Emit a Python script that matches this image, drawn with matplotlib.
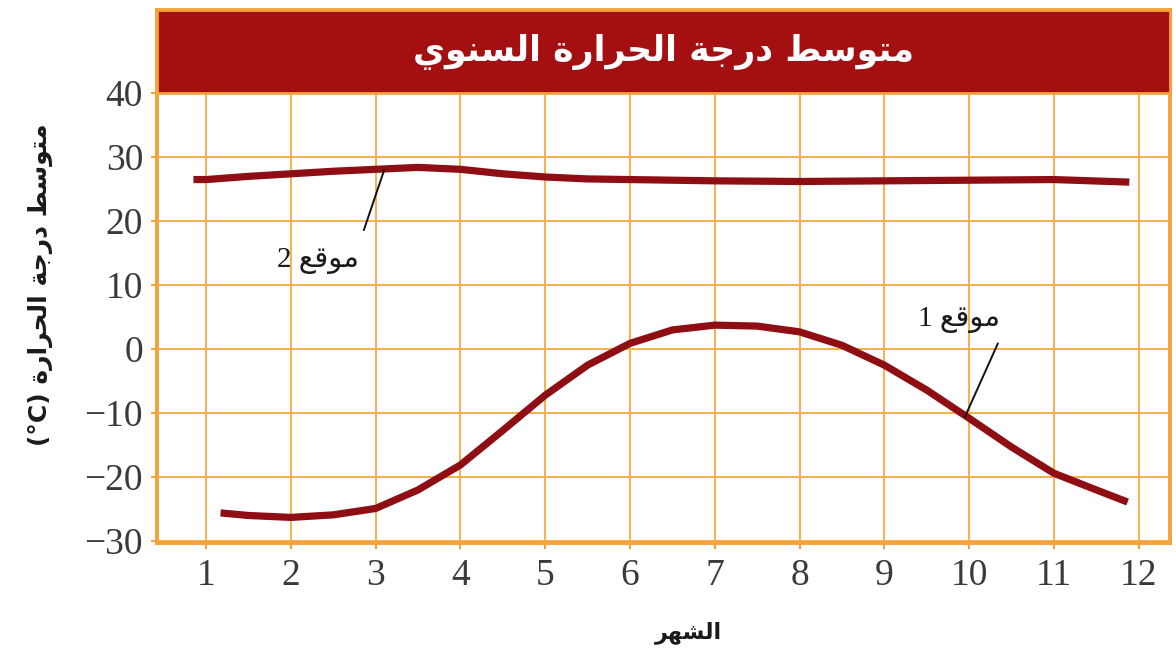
import re
import matplotlib
matplotlib.use("Agg")
import matplotlib.pyplot as plt
from matplotlib.patches import Rectangle

# ---------------- data ----------------
months = [1, 2, 3, 4, 5, 6, 7, 8, 9, 10, 11, 12]
y_ticks = [40, 30, 20, 10, 0, -10, -20, -30]

site1_months = [1.17, 1.5, 2, 2.5, 3, 3.5, 4, 4.5, 5, 5.5, 6, 6.5, 7, 7.5, 8,
                8.5, 9, 9.5, 10, 10.5, 11, 11.5, 11.87]
site1_temps = [-25.6, -26.0, -26.3, -25.9, -24.9, -22.0, -18.1, -12.7, -7.2, -2.5,
               0.9, 3.0, 3.75, 3.6, 2.7, 0.6, -2.5, -6.4, -10.8, -15.3, -19.4,
               -22.0, -23.9]

site2_months = [0.85, 1, 1.5, 2, 2.5, 3, 3.5, 4, 4.5, 5, 5.5, 6, 7, 8, 9, 10, 11, 11.89]
site2_temps = [26.5, 26.5, 27.0, 27.4, 27.8, 28.1, 28.4, 28.1, 27.4, 26.9, 26.6,
               26.5, 26.3, 26.2, 26.3, 26.4, 26.5, 26.1]

title_text = "متوسط درجة الحرارة السنوي"
ylabel_text = "متوسط درجة الحرارة (°C)"
xlabel_text = "الشهر"
site1_label = "موقع 1"
site2_label = "موقع 2"

# ---------------- minimal Arabic shaping ----------------
FORMS = {
    'ا': (0xFE8D, 0xFE8E, None, None), 'ب': (0xFE8F, 0xFE90, 0xFE91, 0xFE92),
    'ة': (0xFE93, 0xFE94, None, None), 'ت': (0xFE95, 0xFE96, 0xFE97, 0xFE98),
    'ث': (0xFE99, 0xFE9A, 0xFE9B, 0xFE9C), 'ج': (0xFE9D, 0xFE9E, 0xFE9F, 0xFEA0),
    'ح': (0xFEA1, 0xFEA2, 0xFEA3, 0xFEA4), 'خ': (0xFEA5, 0xFEA6, 0xFEA7, 0xFEA8),
    'د': (0xFEA9, 0xFEAA, None, None), 'ذ': (0xFEAB, 0xFEAC, None, None),
    'ر': (0xFEAD, 0xFEAE, None, None), 'ز': (0xFEAF, 0xFEB0, None, None),
    'س': (0xFEB1, 0xFEB2, 0xFEB3, 0xFEB4), 'ش': (0xFEB5, 0xFEB6, 0xFEB7, 0xFEB8),
    'ص': (0xFEB9, 0xFEBA, 0xFEBB, 0xFEBC), 'ض': (0xFEBD, 0xFEBE, 0xFEBF, 0xFEC0),
    'ط': (0xFEC1, 0xFEC2, 0xFEC3, 0xFEC4), 'ظ': (0xFEC5, 0xFEC6, 0xFEC7, 0xFEC8),
    'ع': (0xFEC9, 0xFECA, 0xFECB, 0xFECC), 'غ': (0xFECD, 0xFECE, 0xFECF, 0xFED0),
    'ف': (0xFED1, 0xFED2, 0xFED3, 0xFED4), 'ق': (0xFED5, 0xFED6, 0xFED7, 0xFED8),
    'ك': (0xFED9, 0xFEDA, 0xFEDB, 0xFEDC), 'ل': (0xFEDD, 0xFEDE, 0xFEDF, 0xFEE0),
    'م': (0xFEE1, 0xFEE2, 0xFEE3, 0xFEE4), 'ن': (0xFEE5, 0xFEE6, 0xFEE7, 0xFEE8),
    'ه': (0xFEE9, 0xFEEA, 0xFEEB, 0xFEEC), 'و': (0xFEED, 0xFEEE, None, None),
    'ى': (0xFEEF, 0xFEF0, None, None), 'ي': (0xFEF1, 0xFEF2, 0xFEF3, 0xFEF4),
}


def shape(text):
    chars = list(text)
    out = []
    for i, c in enumerate(chars):
        if c not in FORMS:
            out.append(c)
            continue
        prev = chars[i - 1] if i > 0 else None
        nxt = chars[i + 1] if i + 1 < len(chars) else None
        prev_j = prev in FORMS and FORMS[prev][2] is not None
        dual = FORMS[c][2] is not None
        next_j = dual and nxt in FORMS
        iso, fin, ini, med = FORMS[c]
        if prev_j and next_j:
            code = med
        elif prev_j:
            code = fin
        elif next_j:
            code = ini
        else:
            code = iso
        out.append(chr(code))
    vis = ''.join(out)[::-1]
    # restore left-to-right runs
    vis = re.sub(r"[0-9A-Za-z°()]+", lambda m: m.group(0)[::-1], vis)
    return vis


# ---------------- style ----------------
ORANGE = '#F3A33A'
GRID = '#F6B048'
RED_BAR = '#A40F12'
LINE = '#8E0E14'
TICK_COL = '#3a3a3a'

fig = plt.figure(figsize=(11.76, 6.63), dpi=100)
ax = fig.add_axes([157 / 1176, 1 - 543 / 663, (1170 - 157) / 1176, (543 - 10) / 663])

ax.set_xlim(0.42, 12.37)
ax.set_ylim(-30.3, 53)

ax.set_xticks(months)
ax.set_xticklabels([str(m) for m in months])
ax.set_yticks(y_ticks)
ax.set_yticklabels([("\u2212" + str(-t)) if t < 0 else str(t) for t in y_ticks])
ax.tick_params(axis='both', colors=ORANGE, length=4, width=1.5,
               labelcolor=TICK_COL, labelsize=27)
ax.tick_params(axis='x', pad=7)
ax.tick_params(axis='y', pad=6)
for lab in ax.get_xticklabels() + ax.get_yticklabels():
    lab.set_fontfamily('Liberation Serif')

ax.grid(True, color=GRID, linewidth=1.4, zorder=0)
ax.set_axisbelow(True)
for sp in ax.spines.values():
    sp.set_color(ORANGE)
    sp.set_linewidth(2.8)

# title bar
ax.add_patch(Rectangle((0, 40), 1, 13, transform=ax.get_yaxis_transform(),
                       facecolor=RED_BAR, edgecolor=ORANGE, linewidth=2.0,
                       zorder=3, clip_on=False))
ax.text(0.5, 46.4, shape(title_text), transform=ax.get_yaxis_transform(),
        ha='center', va='center', color='white', fontsize=25,
        fontweight='bold', family=['DejaVu Sans'], zorder=4)

# curves
ax.plot(site2_months, site2_temps, color=LINE, linewidth=5.2,
        solid_capstyle='butt', solid_joinstyle='round', zorder=2)
ax.plot(site1_months, site1_temps, color=LINE, linewidth=5.2,
        solid_capstyle='butt', solid_joinstyle='round', zorder=2)

# annotations
ax.annotate('', xy=(3.1, 28.0), xytext=(2.86, 18.6),
            arrowprops=dict(arrowstyle='-', color='#111111', lw=1.4,
                            shrinkA=0, shrinkB=0), zorder=2.5)
ax.text(2.32, 13.8, shape(site2_label), ha='center', va='center',
        fontsize=21, color='#1a1a1a', family=['Liberation Serif', 'DejaVu Sans'])

ax.annotate('', xy=(9.95, -10.6), xytext=(10.34, 0.9),
            arrowprops=dict(arrowstyle='-', color='#111111', lw=1.4,
                            shrinkA=0, shrinkB=0), zorder=2.5)
ax.text(9.88, 4.6, shape(site1_label), ha='center', va='center',
        fontsize=21, color='#1a1a1a', family=['Liberation Serif', 'DejaVu Sans'])

# axis labels
fig.text(688 / 1176, 1 - 633 / 663, shape(xlabel_text), ha='center', va='center',
         fontsize=16, fontweight='bold', color='#1a1a1a', family=['DejaVu Sans'])
fig.text(40 / 1176, 1 - 285 / 663, shape(ylabel_text), ha='center', va='center',
         rotation=90, fontsize=18, fontweight='bold', color='#1a1a1a',
         family=['DejaVu Sans'])

fig.savefig('out.png', dpi=100, facecolor='white')
